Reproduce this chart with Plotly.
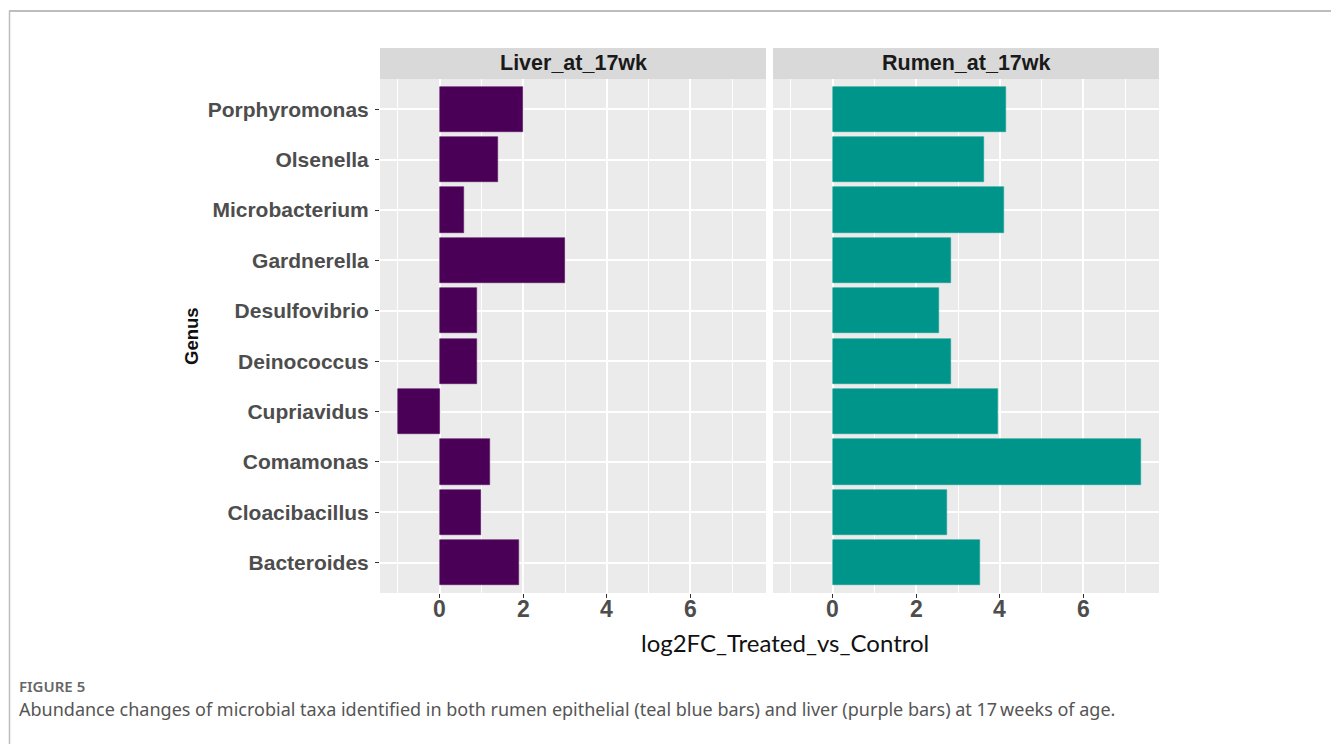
import plotly.graph_objects as go

W, H = 1331, 744

# Genera (bottom to top) and log2 fold changes per tissue
genus = ["Bacteroides", "Cloacibacillus", "Comamonas", "Cupriavidus", "Deinococcus",
         "Desulfovibrio", "Gardnerella", "Microbacterium", "Olsenella", "Porphyromonas"]
liver_lfc = [1.89, 0.99, 1.20, -1.01, 0.90, 0.89, 3.01, 0.59, 1.39, 2.00]
rumen_lfc = [3.53, 2.74, 7.39, 3.96, 2.83, 2.54, 2.83, 4.11, 3.61, 4.15]
facets = ["Liver_at_17wk", "Rumen_at_17wk"]
x_ticks = [0, 2, 4, 6]

liver_color = "#4a0056"
rumen_color = "#00958a"


def px(x):
    return x / W


def py(y):
    return 1 - y / H


# shared x scale with 5% padding on both sides
lo = min(liver_lfc + rumen_lfc)
hi = max(liver_lfc + rumen_lfc)
pad = 0.05 * (hi - lo)
xrange = [lo - pad, hi + pad]

panels = [(380, 766), (773, 1159)]
plot_top, plot_bot = 79, 593
strip_top = 48

fig = go.Figure()
fig.add_trace(go.Bar(x=liver_lfc, y=genus, orientation="h", width=0.9,
                     marker=dict(color=liver_color, line=dict(color="#5c1a68", width=0.6)),
                     xaxis="x", yaxis="y", showlegend=False))
fig.add_trace(go.Bar(x=rumen_lfc, y=genus, orientation="h", width=0.9,
                     marker=dict(color=rumen_color, line=dict(color="#1aa094", width=0.6)),
                     xaxis="x2", yaxis="y2", showlegend=False))

xaxis_common = dict(range=xrange, tickmode="array", tickvals=x_ticks,
                    showticklabels=False,
                    showgrid=True, gridcolor="white", gridwidth=2,
                    minor=dict(tickmode="array", tickvals=[-1, 1, 3, 5, 7], showgrid=True,
                               gridcolor="white", gridwidth=1, ticks=""),
                    ticks="outside", ticklen=4, tickwidth=1, tickcolor="#333333",
                    zeroline=False, showline=False, fixedrange=True)
yaxis_common = dict(type="category", categoryorder="array", categoryarray=genus,
                    range=[-0.6, len(genus) - 0.4], showgrid=True, gridcolor="white",
                    gridwidth=2, zeroline=False, showline=False,
                    domain=[py(plot_bot), py(plot_top)])

fig.update_layout(
    width=W, height=H,
    margin=dict(l=0, r=0, t=0, b=0),
    paper_bgcolor="white",
    plot_bgcolor="#ebebeb",
    bargap=0,
    xaxis=dict(xaxis_common, domain=[px(panels[0][0]), px(panels[0][1])], anchor="y"),
    xaxis2=dict(xaxis_common, domain=[px(panels[1][0]), px(panels[1][1])], anchor="y2"),
    yaxis=dict(yaxis_common, anchor="x", ticks="outside", ticklen=4, tickwidth=1,
               tickcolor="#333333", ticklabelstandoff=2,
               tickfont=dict(family="Liberation Sans, Arial", size=21,
                             color="#4d4d4d", weight="bold")),
    yaxis2=dict(yaxis_common, anchor="x2", matches="y", showticklabels=False, ticks=""),
)

shapes = []
annotations = []
# facet strips
for (x0, x1), name in zip(panels, facets):
    shapes.append(dict(type="rect", xref="paper", yref="paper",
                       x0=px(x0), x1=px(x1), y0=py(plot_top), y1=py(strip_top),
                       fillcolor="#d9d9d9", line=dict(width=0), layer="below"))
    annotations.append(dict(text=name, xref="paper", yref="paper",
                            x=px((x0 + x1) / 2), y=py((strip_top + plot_top) / 2),
                            xanchor="center", yanchor="middle", showarrow=False,
                            font=dict(family="Liberation Sans, Arial", size=21.5,
                                      color="#1a1a1a", weight="bold")))

# x tick labels for both panels, placed on each panel's own x scale
for xref in ["x", "x2"]:
    for t in x_ticks:
        annotations.append(dict(text=str(t), xref=xref, yref="paper",
                                x=t, y=py(609), xanchor="center", yanchor="middle",
                                showarrow=False,
                                font=dict(family="Liberation Sans Narrow, Arial Narrow, "
                                                 "Liberation Sans, Arial",
                                          size=23, color="#4d4d4d", weight="bold")))

# axis titles
annotations.append(dict(text="log2FC_Treated_vs_Control", xref="paper", yref="paper",
                        x=px(785), y=py(642), xanchor="center", yanchor="middle",
                        showarrow=False,
                        font=dict(family="Lato, Open Sans", size=24, color="#111111")))
annotations.append(dict(text="Genus", xref="paper", yref="paper",
                        x=px(191), y=py(336), xanchor="center", yanchor="middle",
                        textangle=-90, showarrow=False,
                        font=dict(family="Liberation Sans, Arial", size=18.5,
                                  color="#111111", weight="bold")))

# figure caption
annotations.append(dict(text="FIGURE 5", xref="paper", yref="paper",
                        x=px(17), y=py(686), xanchor="left", yanchor="middle",
                        showarrow=False,
                        font=dict(family="Noto Sans, Open Sans", size=15,
                                  color="#666666", weight=600)))
annotations.append(dict(text="Abundance changes of microbial taxa identified in both rumen "
                             "epithelial (teal blue bars) and liver (purple bars) at 17\u2009weeks of age.",
                        xref="paper", yref="paper",
                        x=px(17), y=py(709), xanchor="left", yanchor="middle",
                        showarrow=False,
                        font=dict(family="Noto Sans, Open Sans", size=18, color="#555555")))

# frame around the figure
shapes.append(dict(type="line", xref="paper", yref="paper",
                   x0=px(9), x1=1, y0=py(11), y1=py(11),
                   line=dict(color="#bdbdbd", width=2)))
shapes.append(dict(type="line", xref="paper", yref="paper",
                   x0=px(9.5), x1=px(9.5), y0=py(11), y1=0,
                   line=dict(color="#bdbdbd", width=1.5)))

fig.update_layout(shapes=shapes, annotations=annotations)

fig.write_html("out.html")
